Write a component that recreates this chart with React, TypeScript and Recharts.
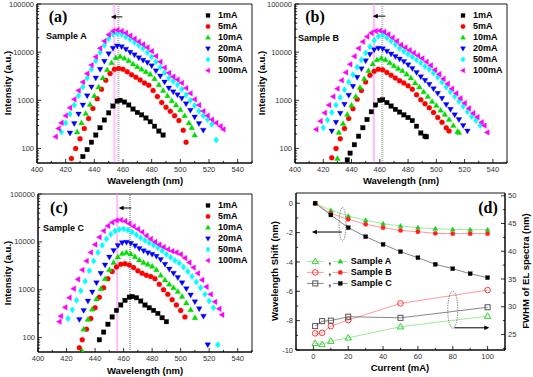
import React from 'react';
import {
  ScatterChart,
  Scatter,
  XAxis,
  YAxis,
  ReferenceLine,
  ReferenceArea,
  Legend,
} from 'recharts';

type Pt = [number, number];

// ---- panel (a): Sample A spectra, [wavelength (nm), intensity (a.u.)]
const a1mA: Pt[] = [[432,68],[435,95],[438,135],[441,190],[444,270],[447,390],[450,550],[453,760],[456,960],[458,1000],[461,920],[464,800],[467,660],[470,560],[473,500],[476,430],[479,360],[482,290],[485,230],[488,190]];
const a5mA: Pt[] = [[424,62],[427,100],[430,160],[433,260],[436,420],[439,680],[442,1080],[445,1700],[448,2600],[451,3600],[454,4400],[457,4600],[460,4400],[463,3900],[466,3400],[469,3000],[472,2650],[475,2300],[478,2050],[481,1600],[484,1200],[487,900],[490,720],[493,590],[496,480],[499,380],[502,240],[504,135]];
const a10mA: Pt[] = [[428,220],[431,340],[434,530],[437,820],[440,1250],[443,1900],[446,2900],[449,4300],[452,6000],[455,7700],[458,8100],[461,7500],[464,6600],[467,5700],[470,5000],[473,4400],[476,3900],[479,3500],[482,2800],[485,2100],[488,1600],[491,1250],[494,980],[497,800],[500,640],[503,480],[506,340],[508,270],[510,190]];
const a20mA: Pt[] = [[423,210],[426,330],[429,520],[432,800],[435,1250],[438,1900],[441,2900],[444,4400],[447,6500],[450,9300],[453,12000],[456,13500],[459,13000],[462,11500],[465,10000],[468,8800],[471,7700],[474,6800],[477,6100],[480,5200],[483,4100],[486,3200],[489,2400],[492,1800],[495,1500],[498,1300],[501,1100],[504,850],[507,620],[510,450],[513,330],[516,240]];
const a50mA: Pt[] = [[417,220],[420,340],[423,520],[426,800],[429,1250],[432,1900],[435,2900],[438,4400],[441,6600],[444,9800],[447,14000],[450,19000],[453,23500],[456,24700],[459,23500],[462,21000],[465,18500],[468,16000],[471,14000],[474,12000],[477,9800],[480,8000],[483,6300],[486,4900],[489,3800],[492,2900],[495,2500],[498,2100],[501,1700],[504,1300],[507,1000],[510,780],[513,600],[516,480],[519,400],[522,320],[525,150]];
const a100mA: Pt[] = [[413,176],[415,260],[417,340],[420,480],[423,700],[426,1050],[429,1600],[432,2400],[435,3600],[438,5400],[441,8000],[444,12000],[447,17000],[450,23000],[453,27500],[456,29000],[459,27500],[462,25000],[465,22000],[468,19000],[471,16500],[474,14500],[477,12500],[480,10500],[483,8300],[486,6300],[489,4800],[492,3700],[495,3100],[498,2700],[501,2300],[504,1800],[507,1400],[510,1050],[513,800],[516,600],[519,480],[522,400],[525,340],[528,290],[530,250]];

// ---- panel (b): Sample B spectra
const b1mA: Pt[] = [[437,58],[439,80],[442,120],[445,180],[448,270],[451,400],[454,580],[457,800],[460,1000],[462,1030],[465,900],[468,760],[471,650],[474,570],[477,500],[480,440],[483,380],[486,290],[489,210],[492,180],[493,175]];
const b5mA: Pt[] = [[426,64],[429,100],[432,160],[435,260],[438,420],[441,670],[444,1050],[447,1600],[450,2400],[453,3300],[456,4000],[459,4400],[462,4300],[465,3800],[468,3300],[471,2900],[474,2550],[477,2300],[480,2000],[483,1700],[486,1300],[489,1030],[492,850],[495,700],[498,560],[501,440],[504,350],[507,270],[509,230]];
const b10mA: Pt[] = [[430,62],[431,215],[434,330],[437,510],[440,790],[443,1200],[446,1850],[449,2800],[452,4100],[455,5700],[458,7000],[461,7500],[464,7000],[467,6000],[470,5200],[473,4600],[476,4100],[479,3500],[482,2900],[485,2300],[488,1900],[491,1500],[494,1200],[497,950],[500,780],[503,620],[506,510],[509,400],[512,300],[515,225],[516,215]];
const b20mA: Pt[] = [[426,230],[429,350],[432,540],[435,830],[438,1280],[441,1950],[444,3000],[447,4500],[450,6600],[453,9000],[456,11200],[459,12100],[462,11800],[465,10500],[468,9200],[471,8100],[474,7200],[477,6400],[480,5500],[483,4600],[486,3800],[489,3100],[492,2600],[495,2150],[498,1750],[501,1400],[504,1100],[507,820],[510,650],[513,500],[516,400],[519,300],[522,230]];
const b50mA: Pt[] = [[420,270],[423,390],[426,560],[429,800],[432,1150],[435,1650],[438,2400],[441,3400],[444,4900],[447,6900],[450,9600],[453,13000],[456,17500],[459,21500],[462,22800],[465,20000],[468,17000],[471,14500],[474,12000],[477,10500],[480,9200],[483,8000],[486,7000],[489,6000],[492,5100],[495,4400],[498,3700],[501,3000],[504,2400],[507,1900],[510,1500],[513,1200],[516,950],[519,750],[522,580],[525,460],[528,380],[531,300]];
const b100mA: Pt[] = [[415,250],[418,370],[421,550],[424,800],[427,1200],[430,1750],[433,2600],[436,3800],[439,5600],[442,8200],[445,12000],[448,16500],[451,21000],[454,25000],[457,27500],[460,28000],[463,26500],[466,23500],[469,20000],[472,17000],[475,14200],[478,12500],[481,11000],[484,9700],[487,8500],[490,7400],[493,6300],[496,5300],[499,4300],[502,3500],[505,2800],[508,2200],[511,1750],[514,1400],[517,1100],[520,880],[523,680],[526,540],[529,450],[532,350],[534,300],[536,215]];

// ---- panel (c): Sample C spectra
const c1mA: Pt[] = [[443,90],[446,130],[449,190],[452,270],[455,370],[458,480],[461,600],[464,700],[466,720],[469,680],[472,580],[475,480],[478,420],[481,370],[484,320],[487,260],[490,215]];
const c5mA: Pt[] = [[429,61],[431,90],[434,150],[437,250],[440,420],[443,700],[446,1100],[449,1700],[452,2400],[455,3000],[458,3400],[461,3500],[464,3300],[467,2900],[470,2500],[473,2200],[476,2000],[479,1900],[482,1700],[485,1300],[488,1000],[491,800],[494,620],[497,480],[500,370],[503,270]];
const c10mA: Pt[] = [[431,52],[432,150],[435,240],[438,390],[441,640],[444,1050],[447,1700],[450,2600],[453,3700],[456,4800],[459,5700],[462,6000],[465,5600],[468,4900],[471,4200],[474,3700],[477,3400],[480,3100],[483,2600],[486,2000],[489,1600],[492,1300],[495,1100],[498,920],[501,720],[504,530],[507,380],[510,260]];
const c20mA: Pt[] = [[429,240],[432,370],[435,580],[438,900],[441,1400],[444,2200],[447,3300],[450,4800],[453,6600],[456,8400],[459,9600],[462,9800],[465,9300],[468,8300],[471,7300],[474,6500],[477,5900],[480,5500],[483,5000],[486,4300],[489,3400],[492,2700],[495,2200],[498,1800],[501,1400],[504,1050],[507,780],[510,560],[513,400],[516,280],[519,71]];
const c50mA: Pt[] = [[421,250],[424,380],[427,600],[430,950],[433,1500],[436,2500],[439,4000],[442,6000],[445,8500],[448,11500],[451,14500],[454,16800],[457,18200],[460,18600],[463,17800],[466,16000],[469,14000],[472,12200],[475,10800],[478,9600],[481,8600],[484,7600],[487,6500],[490,5500],[493,4700],[496,4100],[499,3600],[502,3000],[505,2400],[508,1900],[511,1450],[514,1100],[517,800],[520,580],[523,420],[526,71]];
const c100mA: Pt[] = [[415,215],[416,280],[419,430],[422,680],[425,1050],[428,1650],[431,2600],[434,4000],[437,6000],[440,8800],[443,12500],[446,17000],[449,21500],[452,25500],[455,28000],[458,28700],[461,27000],[464,24000],[467,21000],[470,18500],[473,16000],[476,13500],[479,11500],[482,10000],[485,8800],[488,7800],[491,7000],[494,6400],[497,6000],[500,5500],[503,4600],[506,3700],[509,2900],[512,2200],[515,1600],[518,1150],[521,800],[524,560],[527,400],[529,300]];

const currents = ['1mA', '5mA', '10mA', '20mA', '50mA', '100mA'];
const specColors = ['#000000', '#ff0000', '#00dd00', '#0000ff', '#00ffff', '#ff00ff'];
const specShapes = ['square', 'circle', 'up', 'down', 'diamond', 'left'];

// peak markers (nm) and arrow [from, to, intensity]
const peakA = { pink: 454, gray: 456.8, arrow: [459.5, 451.5, 54000] };
const peakB = { pink: 455.8, gray: 461.8, arrow: [464, 455, 56000] };
const peakC = { pink: 455.5, gray: 464.5, arrow: [465.5, 456.5, 51000] };

const wlTicks = [400, 420, 440, 460, 480, 500, 520, 540];
const wlMinor = [410, 430, 450, 470, 490, 510, 530, 550];
const logTicks = [100, 1000, 10000, 100000];
const logMinor = [60, 70, 80, 90, 200, 300, 400, 500, 600, 700, 800, 900, 2000, 3000, 4000, 5000, 6000, 7000, 8000, 9000, 20000, 30000, 40000, 50000, 60000, 70000, 80000, 90000];

// ---- panel (d)
const shiftCurrent = [1, 10, 20, 30, 40, 50, 60, 70, 80, 90, 100];
const shiftA = [0, -0.48, -0.87, -1.16, -1.39, -1.55, -1.66, -1.73, -1.78, -1.8, -1.8];
const shiftB = [0, -0.7, -1.09, -1.43, -1.66, -1.85, -1.94, -2.05, -2.07, -2.07, -2.07];
const shiftC = [0, -0.8, -1.66, -2.28, -2.8, -3.3, -3.71, -4.16, -4.46, -4.8, -5.07];
const fwhmCurrent = [1, 5, 10, 20, 50, 100];
const fwhmA = [23.4, 23.2, 23.8, 24.4, 26.4, 28.3];
const fwhmB = [25.2, 25.3, 26.5, 27.6, 30.6, 33.0];
const fwhmC = [26.5, 27.4, 27.5, 28.2, 28.0, 29.9];
const samples = ['Sample A', 'Sample B', 'Sample C'];
const curTicks = [0, 20, 40, 60, 80, 100];
const curMinor = [-10, 10, 30, 50, 70, 90, 110];
const shiftTicks = [-10, -8, -6, -4, -2, 0];
const shiftMinor = [-9, -7, -5, -3, -1];
const fwhmTicks = [25, 30, 35, 40, 45, 50];
const fwhmMinor = [22.5, 27.5, 32.5, 37.5, 42.5, 47.5];

const toXY = (pts: Pt[]) => pts.map(([x, y]) => ({ x, y }));
const zipXY = (xs: number[], ys: number[]) => xs.map((x, i) => ({ x, y: ys[i] }));
const sorted = (a: number[], b: number[]) => [...a, ...b].sort((p, q) => p - q);

const Marker = ({ kind, x, y, r, color, open }: any) => {
  const fill = open ? 'none' : color;
  const sw = open ? 0.9 : 0.3;
  const common = { fill, stroke: color, strokeWidth: sw };
  if (x == null || y == null) return <g />;
  switch (kind) {
    case 'square':
      return <rect x={x - r * 0.9} y={y - r * 0.9} width={r * 1.8} height={r * 1.8} {...common} />;
    case 'circle':
      return <circle cx={x} cy={y} r={r} {...common} />;
    case 'up':
      return <polygon points={`${x},${y - r * 1.2} ${x + r * 1.15},${y + r * 0.8} ${x - r * 1.15},${y + r * 0.8}`} {...common} />;
    case 'down':
      return <polygon points={`${x},${y + r * 1.2} ${x + r * 1.15},${y - r * 0.8} ${x - r * 1.15},${y - r * 0.8}`} {...common} />;
    case 'diamond':
      return <polygon points={`${x},${y - r * 1.3} ${x + r},${y} ${x},${y + r * 1.3} ${x - r},${y}`} {...common} />;
    default:
      return <polygon points={`${x - r * 1.2},${y} ${x + r * 0.8},${y - r * 1.15} ${x + r * 0.8},${y + r * 1.15}`} {...common} />;
  }
};

const xTick = (major: number[]) => (p: any) => {
  const v = p.payload.value;
  const isMajor = major.includes(v);
  return (
    <g>
      <line x1={p.x} x2={p.x} y1={p.y} y2={p.y - (isMajor ? 4 : 2.2)} stroke="#000" strokeWidth={0.8} />
      {isMajor && (
        <text x={p.x} y={p.y + 9} textAnchor="middle" fontSize={7.5} fill="#333">
          {v}
        </text>
      )}
    </g>
  );
};

const yTick = (major: number[], side: 'left' | 'right') => (p: any) => {
  const v = p.payload.value;
  const isMajor = major.includes(v);
  const d = side === 'left' ? 1 : -1;
  return (
    <g>
      <line x1={p.x} x2={p.x + d * (isMajor ? 4 : 2.2)} y1={p.y} y2={p.y} stroke="#000" strokeWidth={0.8} />
      {isMajor && (
        <text x={p.x - d * 3} y={p.y + 2.6} textAnchor={side === 'left' ? 'end' : 'start'} fontSize={7.5} fill="#333">
          {v}
        </text>
      )}
    </g>
  );
};

const arrowHead = (dir: 'left' | 'right') => (p: any) => {
  const { cx, cy } = p;
  const s = dir === 'left' ? 1 : -1;
  return <polygon points={`${cx},${cy} ${cx + s * 5},${cy - 2.3} ${cx + s * 5},${cy + 2.3}`} fill="#000" />;
};

const SpecLegend = () => (
  <div style={{ fontWeight: 'bold', fontSize: 9, lineHeight: '11px', color: '#000' }}>
    {currents.map((c, i) => (
      <div key={c} style={{ display: 'flex', alignItems: 'center', height: 11 }}>
        <svg width={12} height={11}>
          <Marker kind={specShapes[i]} x={6} y={5.5} r={2.2} color={specColors[i]} />
        </svg>
        <span style={{ marginLeft: 4 }}>{c}</span>
      </div>
    ))}
  </div>
);

type Cfg = {
  left: number; top: number; width: number; height: number;
  margin: { top: number; right: number; left: number; bottom: number };
  yW: number; xH: number; legendLeft: number; legendTop: number;
};

const SpectrumPanel = ({ cfg, series, peak }: { cfg: Cfg; series: Pt[][]; peak: any }) => (
  <div style={{ position: 'absolute', left: cfg.left, top: cfg.top }}>
    <ScatterChart width={cfg.width} height={cfg.height} margin={cfg.margin}>
      <XAxis
        type="number"
        dataKey="x"
        domain={[400, 550]}
        allowDataOverflow
        ticks={sorted(wlTicks, wlMinor)}
        interval={0}
        tickSize={0}
        tickMargin={0}
        tickLine={false}
        tick={xTick(wlTicks)}
        axisLine={{ stroke: '#000' }}
        height={cfg.xH}
      />
      <YAxis
        type="number"
        dataKey="y"
        scale="log"
        domain={[50, 100000]}
        allowDataOverflow
        ticks={sorted(logTicks, logMinor)}
        interval={0}
        tickSize={0}
        tickMargin={0}
        tickLine={false}
        tick={yTick(logTicks, 'left')}
        axisLine={{ stroke: '#000' }}
        width={cfg.yW}
      />
      <ReferenceArea x1={400} x2={550} y1={50} y2={100000} fill="none" stroke="#000" strokeWidth={0.9} />
      <ReferenceLine x={peak.pink - 0.35} stroke="#ff99ff" strokeWidth={0.7} />
      <ReferenceLine x={peak.pink + 0.35} stroke="#ff99ff" strokeWidth={0.7} />
      <ReferenceLine x={peak.gray - 0.35} stroke="#888" strokeWidth={0.7} strokeDasharray="1 1" />
      <ReferenceLine x={peak.gray + 0.35} stroke="#888" strokeWidth={0.7} strokeDasharray="1 1" />
      {series.map((s, i) => (
        <Scatter
          key={currents[i]}
          name={currents[i]}
          data={toXY(s)}
          isAnimationActive={false}
          shape={(p: any) => <Marker kind={specShapes[i]} x={p.cx} y={p.cy} r={2.5} color={specColors[i]} />}
        />
      ))}
      <ReferenceLine
        segment={[{ x: peak.arrow[0], y: peak.arrow[2] }, { x: peak.arrow[1] + 1.5, y: peak.arrow[2] }]}
        stroke="#000"
        strokeWidth={1}
      />
      <Scatter
        data={[{ x: peak.arrow[1], y: peak.arrow[2] }]}
        isAnimationActive={false}
        legendType="none"
        shape={arrowHead('left')}
      />
      <Legend
        layout="vertical"
        align="center"
        verticalAlign="middle"
        content={<SpecLegend />}
        wrapperStyle={{ left: cfg.legendLeft, top: cfg.legendTop, width: 60 }}
      />
    </ScatterChart>
  </div>
);

const dColors = [
  { c: '#22cc22', line: '#99ee99', kind: 'up' },
  { c: '#ff2020', line: '#ff9999', kind: 'circle' },
  { c: '#000000', line: '#888888', kind: 'square' },
];

const DLegend = () => (
  <div style={{ fontWeight: 'bold', fontSize: 9, color: '#000' }}>
    {samples.map((s, i) => (
      <div key={s} style={{ display: 'flex', alignItems: 'center', height: 10.8 }}>
        <svg width={44} height={10.8}>
          <line x1={0} x2={16.6} y1={5.4} y2={5.4} stroke={dColors[i].line} strokeWidth={1} />
          <Marker kind={dColors[i].kind} x={8.3} y={5.4} r={2.8} color={i === 2 ? '#444' : dColors[i].c} open />
          <text x={21.6} y={8} fontSize={9} fontWeight="bold">,</text>
          <line x1={26} x2={40.6} y1={5.4} y2={5.4} stroke={dColors[i].line} strokeWidth={1} />
          <Marker kind={dColors[i].kind} x={33.3} y={5.4} r={2.2} color={dColors[i].c} />
        </svg>
        <span style={{ marginLeft: 0 }}>{s}</span>
      </div>
    ))}
  </div>
);

const PanelD = () => {
  const shifts = [shiftA, shiftB, shiftC];
  const fwhms = [fwhmA, fwhmB, fwhmC];
  return (
    <div style={{ position: 'absolute', left: 255, top: 185 }}>
      <ScatterChart width={278} height={192} margin={{ top: 8, right: 0, left: 0, bottom: 0 }}>
        <XAxis
          type="number"
          dataKey="x"
          domain={[-10, 110]}
          allowDataOverflow
          ticks={sorted(curTicks, curMinor)}
          interval={0}
          tickSize={0}
          tickMargin={0}
          tickLine={false}
          tick={xTick(curTicks)}
          axisLine={{ stroke: '#000' }}
          height={27}
        />
        <YAxis
          yAxisId="left"
          type="number"
          dataKey="y"
          domain={[-10, 0.7]}
          allowDataOverflow
          ticks={sorted(shiftTicks, shiftMinor)}
          interval={0}
          tickSize={0}
          tickMargin={0}
          tickLine={false}
          tick={yTick(shiftTicks, 'left')}
          axisLine={{ stroke: '#000' }}
          width={41}
        />
        <YAxis
          yAxisId="right"
          orientation="right"
          type="number"
          dataKey="y"
          domain={[22.2, 50.5]}
          allowDataOverflow
          ticks={sorted(fwhmTicks, fwhmMinor)}
          interval={0}
          tickSize={0}
          tickMargin={0}
          tickLine={false}
          tick={yTick(fwhmTicks, 'right')}
          axisLine={{ stroke: '#000' }}
          width={28}
        />
        <ReferenceArea yAxisId="left" x1={-10} x2={110} y1={-10} y2={0.7} fill="none" stroke="#000" strokeWidth={0.9} />
        {fwhms.map((f, i) => (
          <Scatter
            key={'f' + i}
            yAxisId="right"
            name={samples[i] + ' FWHM'}
            data={zipXY(fwhmCurrent, f)}
            isAnimationActive={false}
            line={{ stroke: dColors[i].line, strokeWidth: 1 }}
            lineType="joint"
            shape={(p: any) => (
              <Marker kind={dColors[i].kind} x={p.cx} y={p.cy} r={2.8} color={i === 2 ? '#444' : dColors[i].c} open />
            )}
          />
        ))}
        {shifts.map((s, i) => (
          <Scatter
            key={'s' + i}
            yAxisId="left"
            name={samples[i]}
            data={zipXY(shiftCurrent, s)}
            isAnimationActive={false}
            line={{ stroke: dColors[i].line, strokeWidth: 1 }}
            lineType="joint"
            shape={(p: any) => <Marker kind={dColors[i].kind} x={p.cx} y={p.cy} r={2.2} color={dColors[i].c} />}
          />
        ))}
        {/* dotted ellipses and arrows pointing at the matching axis */}
        <Scatter
          yAxisId="left"
          data={[{ x: 16.7, y: -1.43 }]}
          isAnimationActive={false}
          legendType="none"
          shape={(p: any) => (
            <ellipse cx={p.cx} cy={p.cy} rx={3.4} ry={16.8} fill="none" stroke="#333" strokeWidth={0.7} strokeDasharray="1.2 1.2" />
          )}
        />
        <ReferenceLine yAxisId="left" segment={[{ x: 16.3, y: -1.96 }, { x: 2, y: -1.96 }]} stroke="#000" strokeWidth={1} />
        <Scatter yAxisId="left" data={[{ x: -0.9, y: -1.96 }]} isAnimationActive={false} legendType="none" shape={arrowHead('left')} />
        <Scatter
          yAxisId="right"
          data={[{ x: 80, y: 29.46 }]}
          isAnimationActive={false}
          legendType="none"
          shape={(p: any) => (
            <ellipse cx={p.cx} cy={p.cy} rx={5} ry={18.5} fill="none" stroke="#333" strokeWidth={0.7} strokeDasharray="1.2 1.2" />
          )}
        />
        <ReferenceLine yAxisId="right" segment={[{ x: 81, y: 26.2 }, { x: 98.5, y: 26.2 }]} stroke="#000" strokeWidth={1} />
        <Scatter yAxisId="right" data={[{ x: 101, y: 26.2 }]} isAnimationActive={false} legendType="none" shape={arrowHead('right')} />
        <Legend
          layout="vertical"
          align="center"
          verticalAlign="middle"
          content={<DLegend />}
          wrapperStyle={{ left: 51.7, top: 71, width: 110 }}
        />
      </ScatterChart>
    </div>
  );
};

const Txt = ({ x, y, children, rotate, size = 9.5, serif, anchor = 'center' }: any) => (
  <div
    style={{
      position: 'absolute',
      left: x,
      top: y,
      transform: `translate(${anchor === 'center' ? '-50%' : '0'}, -50%)${rotate ? ' rotate(-90deg)' : ''}`,
      transformOrigin: anchor === 'center' ? 'center' : 'left center',
      whiteSpace: 'nowrap',
      fontWeight: 'bold',
      fontSize: size,
      fontFamily: serif ? '"Liberation Serif", "Times New Roman", serif' : undefined,
      color: '#000',
      lineHeight: 1,
    }}
  >
    {children}
  </div>
);

const cfgA: Cfg = { left: 0, top: 0, width: 260, height: 190, margin: { top: 4, right: 8, left: 0, bottom: 0 }, yW: 37, xH: 27, legendLeft: 202, legendTop: 9.5 };
const cfgB: Cfg = { left: 255, top: 0, width: 278, height: 190, margin: { top: 4, right: 26, left: 0, bottom: 0 }, yW: 40, xH: 27, legendLeft: 202, legendTop: 9.5 };
const cfgC: Cfg = { left: 0, top: 185, width: 260, height: 192, margin: { top: 9, right: 8, left: 0, bottom: 0 }, yW: 38, xH: 25, legendLeft: 202, legendTop: 14.5 };

export default function App() {
  return (
    <div
      style={{
        position: 'absolute',
        left: 0,
        top: 0,
        width: 533,
        height: 377,
        background: '#fff',
        fontFamily: '"Liberation Sans", Arial, sans-serif',
        overflow: 'hidden',
      }}
    >
      <SpectrumPanel cfg={cfgA} series={[a1mA, a5mA, a10mA, a20mA, a50mA, a100mA]} peak={peakA} />
      <SpectrumPanel cfg={cfgB} series={[b1mA, b5mA, b10mA, b20mA, b50mA, b100mA]} peak={peakB} />
      <SpectrumPanel cfg={cfgC} series={[c1mA, c5mA, c10mA, c20mA, c50mA, c100mA]} peak={peakC} />
      <PanelD />

      <Txt x={58} y={17} size={16} serif>(a)</Txt>
      <Txt x={46} y={36} size={9} anchor="left">Sample A</Txt>
      <Txt x={8} y={83} rotate>Intensity (a.u.)</Txt>
      <Txt x={145} y={181}>Wavelength (nm)</Txt>

      <Txt x={315} y={17} size={16} serif>(b)</Txt>
      <Txt x={298} y={38} size={9} anchor="left">Sample B</Txt>
      <Txt x={262} y={83} rotate>Intensity (a.u.)</Txt>
      <Txt x={401} y={181}>Wavelength (nm)</Txt>

      <Txt x={59} y={208} size={16} serif>(c)</Txt>
      <Txt x={43} y={228} size={9} anchor="left">Sample C</Txt>
      <Txt x={8} y={273} rotate>Intensity (a.u.)</Txt>
      <Txt x={145} y={371}>Wavelength (nm)</Txt>

      <Txt x={488} y={208} size={16} serif>(d)</Txt>
      <Txt x={275} y={271} rotate>Wavelength Shift (nm)</Txt>
      <Txt x={526} y={271} rotate>FWHM of EL spectra (nm)</Txt>
      <Txt x={400} y={368}>Current (mA)</Txt>
    </div>
  );
}
